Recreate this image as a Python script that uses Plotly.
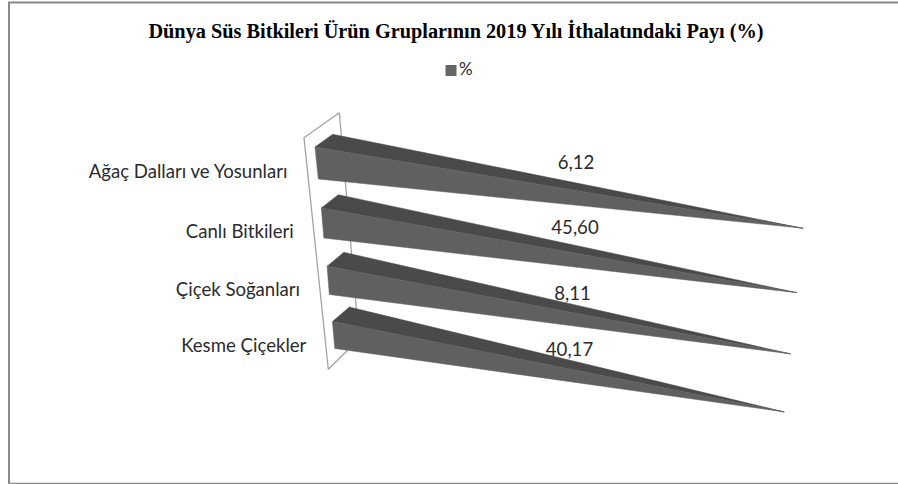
import plotly.graph_objects as go

title = "Dünya Süs Bitkileri Ürün Gruplarının 2019 Yılı İthalatındaki Payı (%)"
series_name = "%"
categories = ["Ağaç Dalları ve Yosunları", "Canlı Bitkileri", "Çiçek Soğanları", "Kesme Çiçekler"]
value_labels = ["6,12", "45,60", "8,11", "40,17"]
values = [6.12, 45.60, 8.11, 40.17]
stacked_share = [100, 100, 100, 100]  # 100 % stacked pyramid: every bar spans the full value axis


def poly(i, a, b, c=0.0):
    return a + b * i + c * i * i


# Perspective projection of the 3-D scene onto the page
def front_top(i):
    return poly(i, 315, 6.55, -0.25), poly(i, 147, 62.4, -1.4)


def front_bottom(i):
    return poly(i, 318.3, 5.5), poly(i, 179, 60.25, -1.25)


def back_top(i):
    return poly(i, 332.7, 5.55), poly(i, 134.3, 61.8, -1.4)


def apex(i, share):
    x0, y0 = front_top(i)
    x1, y1 = poly(i, 803.3, -6.35), poly(i, 228.3, 66, -1.6)
    t = share / 100
    return x0 + (x1 - x0) * t, y0 + (y1 - y0) * t


TOP_COLOR = "#4a4a4a"
SIDE_COLOR = "#606060"
TEXT_COLOR = "#2b2b2b"
FONT = "Lato"

value_label_x = [576, 575, 572.5, 569.5]
value_label_y = [164.5, 229.5, 295.5, 351.5]

fig = go.Figure()

# Back wall of the 3-D chart
wall_x = [339.3, 304, 328.3, 359, 339.3]
wall_y = [112.7, 137.7, 369.3, 339, 112.7]
fig.add_trace(go.Scatter(x=wall_x, y=wall_y, mode="lines", line=dict(color="#a3a3a3", width=1.3),
                         hoverinfo="skip", showlegend=False))

for i, share in enumerate(stacked_share):
    tip = apex(i, share)
    ft, fb, bt = front_top(i), front_bottom(i), back_top(i)
    fig.add_trace(go.Scatter(x=[ft[0], bt[0], tip[0], ft[0]], y=[ft[1], bt[1], tip[1], ft[1]],
                             mode="lines", fill="toself", fillcolor=TOP_COLOR,
                             line=dict(color=TOP_COLOR, width=0.5), showlegend=False,
                             name=categories[i], hoverinfo="name"))
    fig.add_trace(go.Scatter(x=[ft[0], fb[0], tip[0], ft[0]], y=[ft[1], fb[1], tip[1], ft[1]],
                             mode="lines", fill="toself", fillcolor=SIDE_COLOR,
                             line=dict(color=SIDE_COLOR, width=0.5), showlegend=False,
                             name=categories[i], hoverinfo="name"))

# Category labels, following the slanted wall
fig.add_trace(go.Scatter(
    x=[poly(i, 287.5, 6.3) for i in range(4)],
    y=[poly(i, 173.5, 61, -1) for i in range(4)],
    text=categories, mode="text", textposition="middle left",
    textfont=dict(family=FONT, size=18.6, color=TEXT_COLOR), showlegend=False, hoverinfo="skip"))

# Value labels
fig.add_trace(go.Scatter(
    x=value_label_x, y=value_label_y,
    text=value_labels, mode="text", textposition="middle center",
    textfont=dict(family=FONT, size=18.6, color=TEXT_COLOR), showlegend=False, hoverinfo="skip"))

# Legend entry
fig.add_trace(go.Scatter(x=[451], y=[70.5], mode="markers+text", name=series_name, text=[series_name],
                         textposition="middle right",
                         textfont=dict(family=FONT, size=17, color=TEXT_COLOR),
                         marker=dict(symbol="square", size=11, color="#666666"),
                         showlegend=False, hoverinfo="skip"))

fig.update_layout(
    width=898, height=484,
    margin=dict(l=0, r=0, t=0, b=0),
    paper_bgcolor="white", plot_bgcolor="white",
    title=dict(text="<b>" + title + "</b>", x=456 / 898, y=1 - 31 / 484, xanchor="center", yanchor="middle",
               font=dict(family="Liberation Serif", size=20.3, color="#000000")),
    xaxis=dict(range=[0, 898], visible=False, fixedrange=True),
    yaxis=dict(range=[484, 0], visible=False, fixedrange=True),
    shapes=[
        dict(type="line", xref="x", yref="y", x0=9, x1=9, y0=2, y1=484, line=dict(color="#8a8a8a", width=2)),
        dict(type="line", xref="x", yref="y", x0=8, x1=898, y0=2.5, y1=2.5, line=dict(color="#8a8a8a", width=2)),
        dict(type="line", xref="x", yref="y", x0=8, x1=898, y0=483.5, y1=483.5, line=dict(color="#8a8a8a", width=1.5)),
    ],
)

fig.write_html("out.html", config=dict(displayModeBar=False),
               post_script="document.body.style.margin='0';document.documentElement.style.overflow='hidden';")
